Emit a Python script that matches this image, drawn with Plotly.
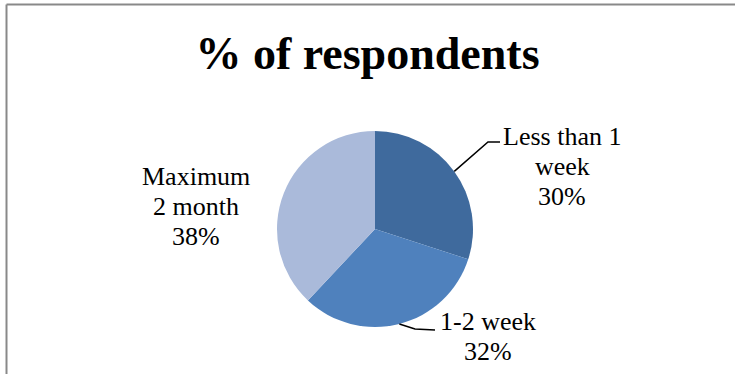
import math
import plotly.graph_objects as go

# Survey breakdown
categories = ["Less than 1 week", "1-2 week", "Maximum 2 month"]
label_lines = [["Less than 1", "week"], ["1-2 week"], ["Maximum", "2 month"]]
shares = [30, 32, 38]
slice_colors = ["#3F6A9D", "#4F81BD", "#AABADA"]

W, H = 735, 374
cx, cy, r = 375, 229, 98  # pie centre and radius in px

fig = go.Figure()

fig.add_trace(go.Pie(
    labels=categories,
    values=shares,
    sort=False,
    direction="clockwise",
    rotation=0,
    textinfo="none",
    hoverinfo="label+percent",
    marker=dict(colors=slice_colors, line=dict(width=0)),
    domain=dict(x=[(cx - r) / W, (cx + r) / W], y=[(H - cy - r) / H, (H - cy + r) / H]),
    showlegend=False,
))

# invisible pixel-space axes used for leader lines and labels
fig.add_trace(go.Scatter(x=[0, W], y=[0, H], mode="markers", marker=dict(opacity=0),
                         hoverinfo="skip", showlegend=False))

total = sum(shares)
mid_angles = []
acc = 0
for v in shares:
    mid_angles.append((acc + v / 2) / total * 2 * math.pi)
    acc += v

def edge_point(a):
    return cx + r * math.sin(a), cy - r * math.cos(a)

font = dict(family="Liberation Serif, Times New Roman, serif", size=26, color="#000000")
line_gap = 30

# label placement (px): centre x, first-line centre y, and leader route
label_pos = [(562, 136), (488, 321), (196, 176)]
leaders = [
    lambda p: [p, (488, 142), (500, 142)],
    lambda p: [p, (415, 329), (435, 330)],
    None,
]

shapes = []
for i, v in enumerate(shares):
    pct = round(v / total * 100)
    tx, ty = label_pos[i]
    lines = label_lines[i] + [f"{pct}%"]
    for k, txt in enumerate(lines):
        fig.add_annotation(x=tx, y=ty + k * line_gap, xref="x", yref="y", text=txt,
                           showarrow=False, font=font, align="center")
    if leaders[i] is not None:
        pts = leaders[i](edge_point(mid_angles[i]))
        path = "M " + " L ".join(f"{x},{y}" for x, y in pts)
        shapes.append(dict(type="path", path=path, xref="x", yref="y",
                           line=dict(color="#000000", width=1.5)))

# chart frame: top and left edges
frame = dict(color="#898989", width=2)
shapes.append(dict(type="line", xref="paper", yref="paper", x0=6.5 / W, x1=1, y0=1 - 4.5 / H, y1=1 - 4.5 / H, line=frame))
shapes.append(dict(type="line", xref="paper", yref="paper", x0=6.5 / W, x1=6.5 / W, y0=0, y1=1 - 4.5 / H, line=frame))

fig.update_layout(
    width=W, height=H,
    margin=dict(l=0, r=0, t=0, b=0),
    paper_bgcolor="white", plot_bgcolor="rgba(0,0,0,0)",
    xaxis=dict(range=[0, W], visible=False, fixedrange=True),
    yaxis=dict(range=[H, 0], visible=False, fixedrange=True),
    shapes=shapes,
    title=dict(text="<b>% of respondents</b>", x=0.5, xanchor="center", y=1 - 53 / H, yanchor="middle",
               font=dict(family="Liberation Serif, Times New Roman, serif", size=46, color="#000000")),
)

fig.write_html("out.html")
